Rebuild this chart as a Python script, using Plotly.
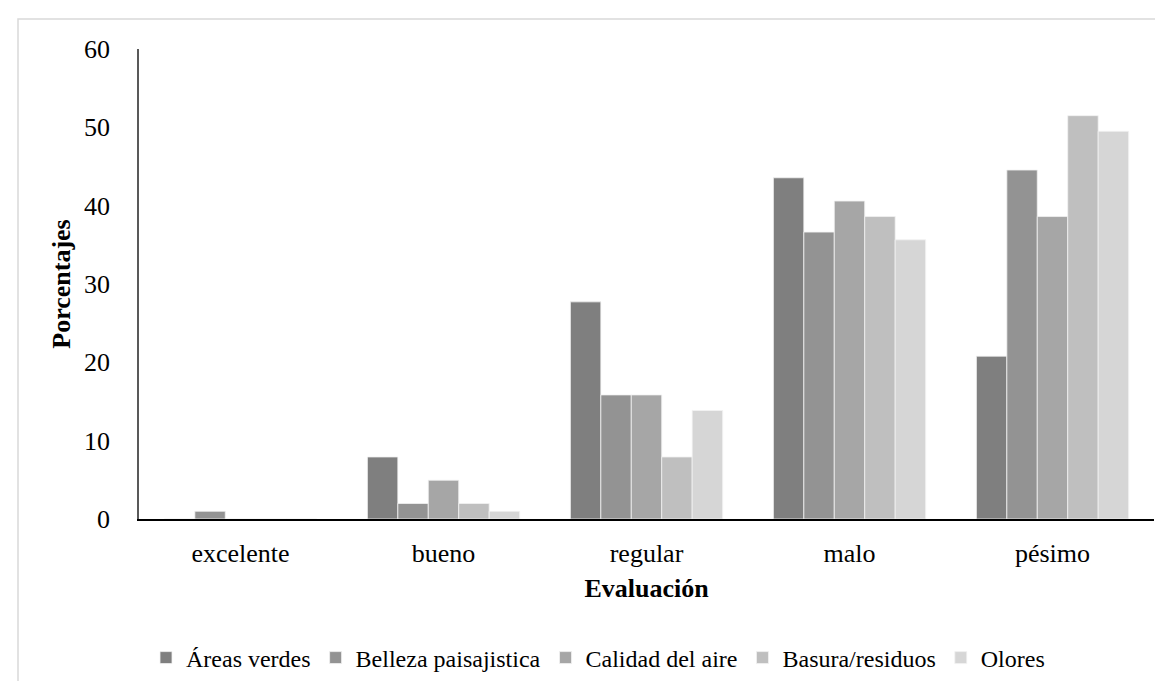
import plotly.graph_objects as go

categorias = ["excelente", "bueno", "regular", "malo", "pésimo"]
series = ["Áreas verdes", "Belleza paisajistica", "Calidad del aire", "Basura/residuos", "Olores"]
areas_verdes = [0, 7.92, 27.72, 43.56, 20.79]
belleza = [0.99, 1.98, 15.84, 36.63, 44.55]
calidad_aire = [0, 4.95, 15.84, 40.59, 38.61]
basura = [0, 1.98, 7.92, 38.61, 51.49]
olores = [0, 0.99, 13.86, 35.64, 49.50]
valores = [areas_verdes, belleza, calidad_aire, basura, olores]
colores = ["#7f7f7f", "#939393", "#a6a6a6", "#bfbfbf", "#d6d6d6"]
y_ticks = [0, 10, 20, 30, 40, 50, 60]

W, H = 1163, 681
L, R, T, B = 131, 17, 41, 170
pw, ph = W - L - R, H - T - B

fig = go.Figure()
for name, vals, col in zip(series, valores, colores):
    fig.add_trace(go.Bar(x=categorias, y=vals, name=name,
                         marker=dict(color=col, line=dict(color="#f2f2f2", width=0.8))))

font = "Liberation Serif, Times New Roman, serif"
fig.update_layout(
    width=W, height=H,
    margin=dict(l=L, r=R, t=T, b=B, autoexpand=False),
    paper_bgcolor="white", plot_bgcolor="white",
    bargap=0.25, bargroupgap=0,
    font=dict(family=font, size=26, color="black"),
    showlegend=True,
    legend=dict(orientation="h", x=(590 - L) / pw, xanchor="center",
                y=(T + ph - 650) / ph, yanchor="middle",
                font=dict(family=font, size=24, color="black"),
                itemwidth=30, tracegroupgap=0, traceorder="normal"),
    xaxis=dict(showline=True, linecolor="black", linewidth=1.5, ticks="",
               showgrid=False, zeroline=False, ticklabelstandoff=10,
               tickfont=dict(size=26),
               title=dict(text="<b>Evaluación</b>", font=dict(size=26), standoff=12),
               automargin=False),
    yaxis=dict(range=[0, 60], tickvals=y_ticks, showline=True, linecolor="#595959",
               linewidth=1.5, ticks="", showgrid=False, zeroline=False,
               ticklabelstandoff=22, tickfont=dict(size=26),
               title=dict(text="<b>Porcentajes</b>", font=dict(size=26), standoff=6),
               automargin=False),
    shapes=[dict(type="rect", xref="paper", yref="paper",
                 x0=(10 - L) / pw, x1=1.2, y0=-0.6, y1=(T + ph - 11) / ph,
                 line=dict(color="#d9d9d9", width=1.5), layer="below")],
)

fig.write_html("out.html")
